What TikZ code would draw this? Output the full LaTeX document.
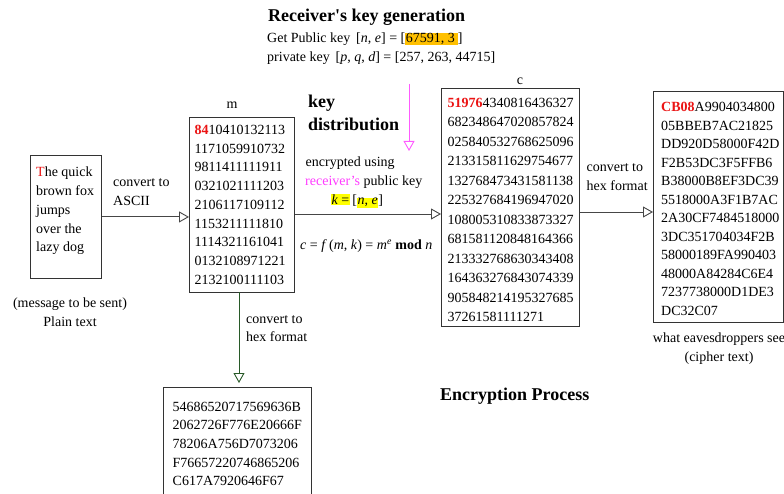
\documentclass[tikz,border=0pt]{standalone}
\usepackage{fontspec}
\setmainfont{Liberation Serif}
\usetikzlibrary{arrows.meta}
\definecolor{boxline}{RGB}{51,51,51}
\definecolor{arrowgray}{RGB}{70,70,70}
\definecolor{hexgreen}{RGB}{40,90,40}
\definecolor{pinkline}{RGB}{255,90,255}
\definecolor{magtext}{RGB}{255,60,255}
\definecolor{redtext}{RGB}{235,20,20}
\definecolor{hlorange}{RGB}{255,192,0}
\definecolor{hlyellow}{RGB}{255,255,0}
\newcommand{\hlbox}[2]{{\setlength{\fboxsep}{0.6pt}\colorbox{#1}{#2}}}
\newcommand{\redb}[1]{\textcolor{redtext}{\textbf{#1}}}
\begin{document}
\begin{tikzpicture}[x=1pt,y=-1pt,
  box/.style={draw=boxline, line width=0.9pt, anchor=north west, inner sep=0pt},
  body/.style={anchor=north west, align=left, inner sep=0pt, font=\fontsize{14}{18.7}\selectfont},
  lbl/.style={inner sep=0pt, font=\fontsize{14}{18.5}\selectfont},
  ttl/.style={inner sep=0pt, font=\fontsize{18}{23}\selectfont\bfseries},
  arr/.style={draw=arrowgray, line width=0.9pt, -{Triangle[open, length=10pt, width=11pt]}}]
\useasboundingbox (0,0) rectangle (784,494);
\fill[white] (0,0) rectangle (784,494);

% title block
\node[ttl, anchor=west] (title) at (268,17) {Receiver\textquotesingle s key generation};
\node[lbl, anchor=west] (pub) at (267,39) {Get Public key \,[\textit{n}, \textit{e}] = [\hlbox{hlorange}{67591, 3\,}]};
\node[lbl, anchor=west] (priv) at (267,58) {private key \,[\textit{p}, \textit{q}, \textit{d}] = [257, 263, 44715]};

% plain text box
\node[box, minimum width=71pt, minimum height=123pt] (plain) at (30,155) {};
\node[body] (plaintxt) at (36,167) {\textcolor{redtext}{T}he quick\\brown fox\\jumps\\over the\\lazy dog};
\node[lbl, align=center] (plainlbl) at (70,312) {(message to be sent)\\Plain text};

% m box
\node[lbl] (mlbl) at (232,105) {m};
\node[box, minimum width=105pt, minimum height=175pt] (m) at (189,117) {};
\node[body] (mtxt) at (194.5,125) {\redb{84}10410132113\\1171059910732\\9811411111911\\0321021111203\\2106117109112\\1153211111810\\1114321161041\\0132108971221\\2132100111103};

% convert to ASCII
\node[lbl, anchor=west, align=left] (ascii) at (113,192) {convert to\\ASCII};
\draw[arr] (plain.east) -- (plain.east -| m.west);

% hex box (bottom)
\node[box, minimum width=148pt, minimum height=120pt] (hex) at (163,387) {};
\node[body] (hextxt) at (172.5,401.5) {54686520717569636B\\2062726F776E20666F\\78206A756D7073206\\F76657220746865206\\C617A7920646F67};
\node[lbl, anchor=west, align=left] (hexlbl1) at (246,328.5) {convert to\\hex format};
\draw[arr, draw=hexgreen] (239,292) coordinate (mbot) -- ([yshift=4pt]mbot |- hex.north);

% c box
\node[lbl] (clbl) at (520,81) {c};
\node[box, minimum width=138pt, minimum height=238pt] (c) at (441,88) {};
\node[body, font=\fontsize{14}{19.5}\selectfont] (ctxt) at (447.5,97.5) {\redb{51976}4340816436327\\682348647020857824\\025840532768625096\\213315811629754677\\132768473431581138\\225327684196947020\\108005310833873327\\681581120848164366\\213332768630343408\\164363276843074339\\905848214195327685\\37261581111271};

% key distribution
\node[ttl, anchor=west, align=left, font=\fontsize{18}{23.5}\selectfont\bfseries] (keyd) at (308,113) {key\\distribution};
\coordinate (pinktop) at (409,84);
\draw[arr, draw=pinkline] (pinktop) -- (409,151) coordinate (pinkend);
\node[lbl, anchor=west] (enc1) at (305.5,163) {encrypted using};
\node[lbl, anchor=west] (enc2) at (305,182.5) {\textcolor{magtext}{receiver's} public key};
\node[lbl] (enc3) at (357,201) {\hlbox{hlyellow}{\textit{k} =}\,[\hlbox{hlyellow}{\textit{n}, \textit{e}}]};
\node[lbl, anchor=west] (formula) at (300,246) {\textit{c} = \textit{f}\,(\textit{m}, \textit{k}) = \textit{m}\textsuperscript{\textit{e}} \textbf{mod} \textit{n}};
\coordinate (lvlmc) at (0,214);
\draw[arr] (m.east |- lvlmc) -- (c.west |- lvlmc);

% cipher box
\node[box, minimum width=130pt, minimum height=231pt] (cipher) at (653,91) {};
\node[body, font=\fontsize{14}{18.5}\selectfont] (ciphertxt) at (661,102) {\redb{CB08}A9904034800\\05BBEB7AC21825\\DD920D58000F42D\\F2B53DC3F5FFB6\\B38000B8EF3DC39\\5518000A3F1B7AC\\2A30CF7484518000\\3DC351704034F2B\\58000189FA990403\\48000A84284C6E4\\7237738000D1DE3\\DC32C07};
\node[lbl, anchor=west, align=left] (hexlbl2) at (586.5,177) {convert to\\hex format};
\coordinate (lvlcc) at (0,212);
\draw[arr] (c.east |- lvlcc) -- (cipher.west |- lvlcc);
\node[lbl, align=center] (eaves) at (719,348.5) {what eavesdroppers see\\(cipher text)};

% Encryption Process
\node[ttl, anchor=west] (encproc) at (440,396) {Encryption Process};
\end{tikzpicture}
\end{document}
